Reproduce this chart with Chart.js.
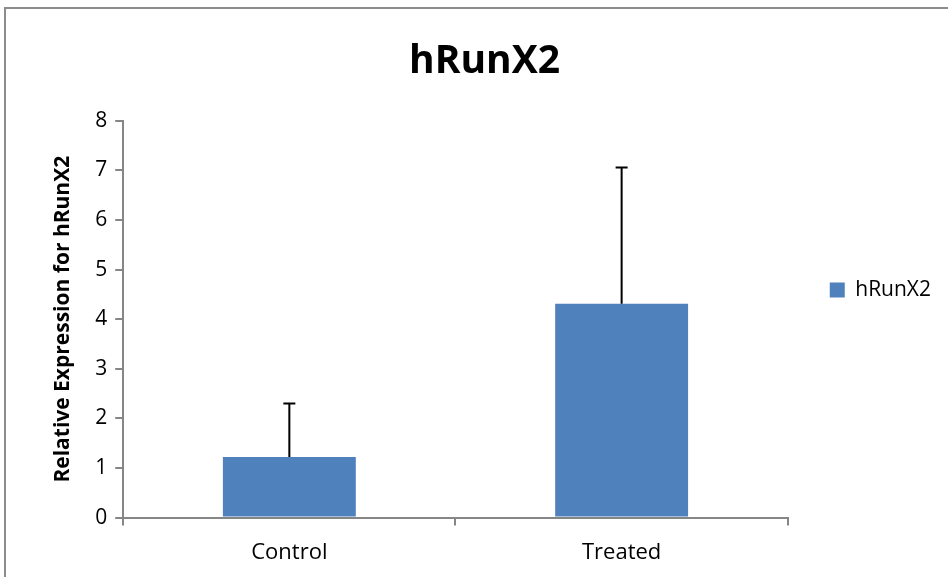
<!DOCTYPE html>
<html>
<head>
<meta charset="utf-8">
<script src="https://cdn.jsdelivr.net/npm/chart.js@4"></script>
<style>
  html, body { margin: 0; padding: 0; background: #fff; }
  #wrap { position: absolute; left: 0; top: 0; width: 948px; height: 577px; }
</style>
</head>
<body>
<div id="wrap"><canvas id="chart" width="948" height="577"></canvas></div>
<script>
const categories = ["Control", "Treated"];
const seriesName = "hRunX2";
const values = [1.22, 4.31];
const errors = [1.08, 2.75];
const yTicks = [0, 1, 2, 3, 4, 5, 6, 7, 8];

const axisGrey = "#868686";
const barBlue = "#4f81bd";

// error bars, plus-only, drawn through the scales
const errorBars = {
  id: "errorBars",
  afterDatasetsDraw(chart) {
    const ctx = chart.ctx;
    const meta = chart.getDatasetMeta(0);
    const y = chart.scales.y;
    ctx.save();
    ctx.strokeStyle = "#000";
    ctx.lineWidth = 2;
    meta.data.forEach((bar, i) => {
      const top = y.getPixelForValue(values[i] + errors[i]);
      const base = y.getPixelForValue(values[i]);
      ctx.beginPath();
      ctx.moveTo(bar.x, base);
      ctx.lineTo(bar.x, top);
      ctx.moveTo(bar.x - 6, top);
      ctx.lineTo(bar.x + 6, top);
      ctx.stroke();
    });
    ctx.restore();
  },
};

// outer chart frame (only the top and left edges are visible)
const frame = {
  id: "frame",
  beforeDraw(chart) {
    const ctx = chart.ctx;
    ctx.save();
    ctx.fillStyle = "#fff";
    ctx.fillRect(0, 0, chart.width, chart.height);
    ctx.strokeStyle = "#8c8c8c";
    ctx.lineWidth = 2;
    ctx.beginPath();
    ctx.moveTo(5, chart.height);
    ctx.lineTo(5, 8);
    ctx.lineTo(chart.width, 8);
    ctx.stroke();
    ctx.restore();
  },
};

new Chart(document.getElementById("chart"), {
  type: "bar",
  data: {
    labels: categories,
    datasets: [
      {
        label: seriesName,
        data: values,
        backgroundColor: barBlue,
        borderWidth: 0,
        barPercentage: 0.4,
        categoryPercentage: 1.0,
      },
    ],
  },
  options: {
    responsive: false,
    animation: false,
    layout: { padding: { left: 28, right: 7, top: 0, bottom: -3 } },
    plugins: {
      title: {
        display: true,
        text: "hRunX2",
        color: "#000",
        font: { family: "Open Sans", size: 39, weight: "bold" },
        padding: { top: 38, bottom: 36 },
      },
      legend: {
        position: "right",
        labels: {
          color: "#000",
          font: { family: "Open Sans", size: 21 },
          boxWidth: 15,
          boxHeight: 15,
          padding: 42,
        },
      },
      tooltip: { enabled: false },
    },
    scales: {
      x: {
        grid: {
          display: true,
          drawOnChartArea: false,
          offset: true,
          color: axisGrey,
          lineWidth: 2,
          tickLength: 8,
        },
        border: { display: true, color: axisGrey, width: 2 },
        ticks: {
          color: "#000",
          font: { family: "Open Sans", size: 22 },
          padding: 14,
        },
      },
      y: {
        min: 0,
        max: 8,
        afterBuildTicks(axis) {
          axis.ticks = yTicks.map((v) => ({ value: v }));
        },
        grid: {
          display: true,
          drawOnChartArea: false,
          color: axisGrey,
          lineWidth: 2,
          tickLength: 8,
        },
        border: { display: true, color: axisGrey, width: 2 },
        ticks: {
          color: "#000",
          font: { family: "Open Sans", size: 21 },
          padding: 8,
        },
        title: {
          display: true,
          text: "Relative Expression for hRunX2",
          color: "#000",
          font: { family: "Open Sans", size: 21, weight: "bold" },
          padding: { top: 22, bottom: 12 },
        },
      },
    },
  },
  plugins: [frame, errorBars],
});
</script>
</body>
</html>
